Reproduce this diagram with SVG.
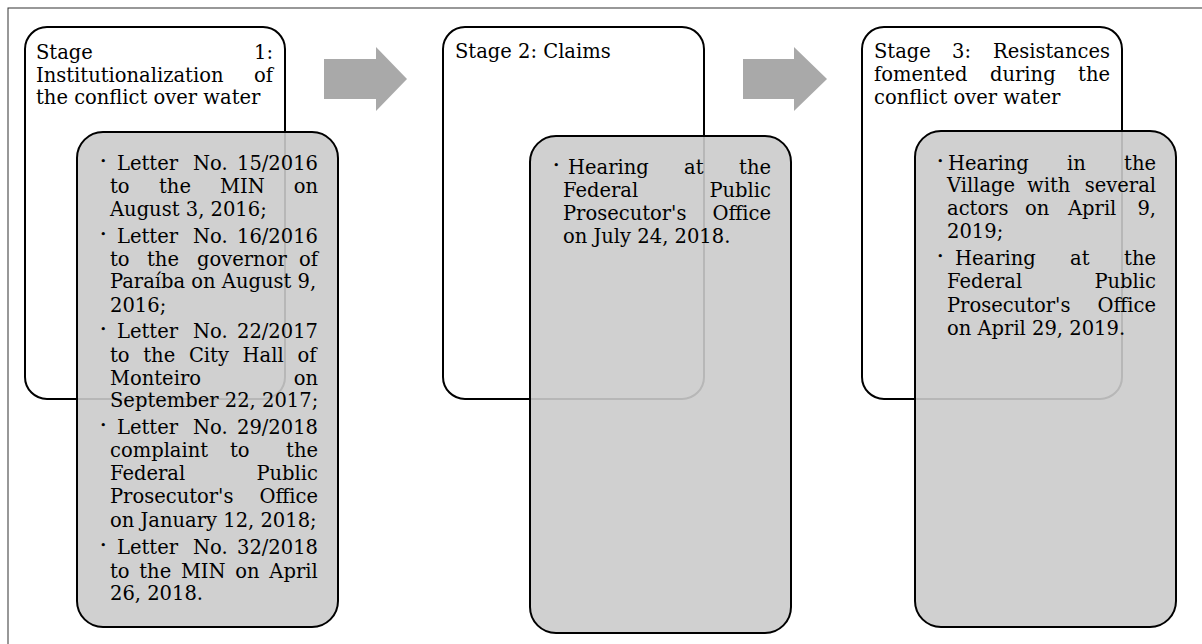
<svg xmlns="http://www.w3.org/2000/svg" width="1202" height="644" viewBox="0 0 1202 644">
<style>
.frame{fill:#fff;stroke:#333;stroke-width:1}
.outer{fill:#fff;stroke:#000;stroke-width:2}
.inner{fill:#cbcbcb;fill-opacity:0.9;stroke:#000;stroke-width:2}
.arrow{fill:#a9a9a9}
text{font-family:"DejaVu Serif","Liberation Serif",serif;font-size:19.5px;fill:#000}
.b{font-size:11px}
.e{text-anchor:end}
</style>
<rect class="frame" x="8" y="8" width="1200" height="640"/>
<g id="connectors">
<polygon class="arrow" points="324,59 376,59 376,47 407,79 376,111 376,99 324,99"/>
<polygon class="arrow" points="743,59 794,59 794,47 827,79 794,111 794,99 743,99"/>
</g>
<g id="stage1">
<rect class="outer" x="25" y="27" width="260" height="372" rx="22"/>
<text x="36" y="59">Stage<tspan class="e" x="273">1:</tspan></text>
<text x="36" y="82">Institutionalization<tspan class="e" x="273">of</tspan></text>
<text x="36" y="104">the conflict over water</text>
</g>
<g id="stage1-items">
<rect class="inner" x="77" y="132" width="261" height="495" rx="26"/>
<text x="100" y="165" class="b">•</text>
<text x="117" y="170">Letter<tspan x="193">No.</tspan><tspan class="e" x="318">15/2016</tspan></text>
<text x="110" y="193">to<tspan x="159">the</tspan><tspan x="220">MIN</tspan><tspan class="e" x="318">on</tspan></text>
<text x="110" y="216">August 3, 2016;</text>
<text x="100" y="238" class="b">•</text>
<text x="117" y="243">Letter<tspan x="193">No.</tspan><tspan class="e" x="318">16/2016</tspan></text>
<text x="110" y="266">to<tspan x="147">the</tspan><tspan x="197">governor</tspan><tspan class="e" x="318">of</tspan></text>
<text x="110" y="288">Paraíba on August 9,</text>
<text x="110" y="312">2016;</text>
<text x="100" y="333" class="b">•</text>
<text x="117" y="338">Letter<tspan x="193">No.</tspan><tspan class="e" x="318">22/2017</tspan></text>
<text x="110" y="362" word-spacing="7.5">to the City Hall of</text>
<text x="110" y="385">Monteiro<tspan class="e" x="318">on</tspan></text>
<text x="110" y="407">September 22, 2017;</text>
<text x="100" y="429" class="b">•</text>
<text x="117" y="434">Letter<tspan x="193">No.</tspan><tspan class="e" x="318">29/2018</tspan></text>
<text x="110" y="457">complaint<tspan x="230">to</tspan><tspan class="e" x="318">the</tspan></text>
<text x="110" y="480">Federal<tspan class="e" x="318">Public</tspan></text>
<text x="110" y="503">Prosecutor's<tspan class="e" x="318">Office</tspan></text>
<text x="110" y="527">on January 12, 2018;</text>
<text x="100" y="549" class="b">•</text>
<text x="117" y="554">Letter<tspan x="193">No.</tspan><tspan class="e" x="318">32/2018</tspan></text>
<text x="110" y="578" word-spacing="3.5">to the MIN on April</text>
<text x="110" y="600">26, 2018.</text>
</g>
<g id="stage2">
<rect class="outer" x="443" y="27" width="261" height="372" rx="22"/>
<text x="455" y="58">Stage 2: Claims</text>
</g>
<g id="stage2-items">
<rect class="inner" x="530" y="136" width="261" height="497" rx="26"/>
<text x="553" y="169" class="b">•</text>
<text x="568" y="174">Hearing<tspan x="684">at</tspan><tspan class="e" x="771">the</tspan></text>
<text x="563" y="197">Federal<tspan class="e" x="771">Public</tspan></text>
<text x="563" y="220">Prosecutor's<tspan class="e" x="771">Office</tspan></text>
<text x="563" y="243">on July 24, 2018.</text>
</g>
<g id="stage3">
<rect class="outer" x="862" y="27" width="260" height="372" rx="22"/>
<text x="874" y="58">Stage<tspan x="952">3:</tspan><tspan class="e" x="1110">Resistances</tspan></text>
<text x="874" y="81">fomented<tspan x="990">during</tspan><tspan class="e" x="1110">the</tspan></text>
<text x="874" y="104">conflict over water</text>
</g>
<g id="stage3-items">
<rect class="inner" x="915" y="131" width="261" height="496" rx="26"/>
<text x="937" y="165" class="b">•</text>
<text x="948" y="170">Hearing<tspan x="1067">in</tspan><tspan class="e" x="1156">the</tspan></text>
<text x="947" y="192">Village<tspan x="1027">with</tspan><tspan class="e" x="1156">several</tspan></text>
<text x="947" y="215">actors<tspan x="1025">on</tspan><tspan x="1068">April</tspan><tspan class="e" x="1156">9,</tspan></text>
<text x="947" y="238">2019;</text>
<text x="937" y="260" class="b">•</text>
<text x="955" y="265">Hearing<tspan x="1070">at</tspan><tspan class="e" x="1156">the</tspan></text>
<text x="947" y="288">Federal<tspan class="e" x="1156">Public</tspan></text>
<text x="947" y="312">Prosecutor's<tspan class="e" x="1156">Office</tspan></text>
<text x="947" y="335">on April 29, 2019.</text>
</g>
</svg>
